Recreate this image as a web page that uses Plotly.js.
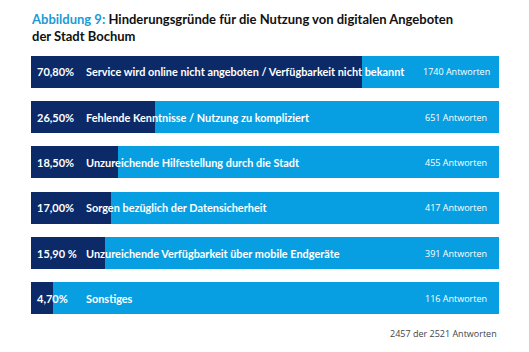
<!DOCTYPE html>
<html>
<head>
<meta charset="utf-8">
<script src="https://cdn.plot.ly/plotly-3.0.1.min.js"></script>
<style>html,body{margin:0;padding:0;background:#fff;}#chart{width:529px;height:352px;}</style>
</head>
<body>
<div id="chart"></div>
<script>
const categories = [
  "Service wird online nicht angeboten / Verfügbarkeit nicht bekannt",
  "Fehlende Kenntnisse / Nutzung zu kompliziert",
  "Unzureichende Hilfestellung durch die Stadt",
  "Sorgen bezüglich der Datensicherheit",
  "Unzureichende Verfügbarkeit über mobile Endgeräte",
  "Sonstiges"
];
const percentValues = [70.8, 26.5, 18.5, 17.0, 15.9, 4.7];
const percentLabels = ["70,80%", "26,50%", "18,50%", "17,00%", "15,90 %", "4,70%"];
const answerCounts = [1740, 651, 455, 417, 391, 116];
const totalNote = "2457 der 2521 Antworten";

const DARK = "#0c2a68";
const LIGHT = "#089fe2";
const FONT = "Lato, sans-serif";
const FONT2 = "Open Sans, sans-serif";

const remainder = percentValues.map(v => 100 - v);

const traces = [
  {type: "bar", orientation: "h", y: categories, x: percentValues,
   marker: {color: DARK}, hoverinfo: "skip", showlegend: false},
  {type: "bar", orientation: "h", y: categories, x: remainder,
   marker: {color: LIGHT}, hoverinfo: "skip", showlegend: false}
];

const annotations = [];
categories.forEach((c, i) => {
  annotations.push({xref: "paper", x: 0, xanchor: "left", xshift: 4, y: c, yref: "y",
    text: "<b>" + percentLabels[i] + "</b>", showarrow: false,
    font: {family: FONT, size: 11, color: "#ffffff"}});
  annotations.push({xref: "paper", x: 0, xanchor: "left", xshift: 53, y: c, yref: "y",
    text: "<b>" + c + "</b>", showarrow: false,
    font: {family: FONT, size: 10.9, color: "#ffffff"}});
  annotations.push({xref: "paper", x: 1, xanchor: "center", xshift: -43, y: c, yref: "y",
    text: answerCounts[i] + " Antworten", showarrow: false,
    font: {family: FONT2, size: 9, color: "#ffffff"}});
});
annotations.push({xref: "paper", x: 1, xanchor: "right", yref: "paper", y: 0, yanchor: "top", yshift: -4,
  text: totalNote, showarrow: false, font: {family: FONT2, size: 9, color: "#444444"}});
annotations.push({xref: "paper", x: 0, xanchor: "left", xshift: -2, yref: "paper", y: 1, yanchor: "bottom", yshift: 3,
  align: "left", showarrow: false,
  text: "<b><span style='color:#1a9bd7'>Abbildung 9:</span> Hinderungsgründe für die Nutzung von digitalen Angeboten<br>der Stadt Bochum</b>",
  font: {family: FONT, size: 13, color: "#111111"}});

const layout = {
  width: 529, height: 352,
  margin: {l: 31, r: 30, t: 49, b: 31},
  paper_bgcolor: "#ffffff", plot_bgcolor: "#ffffff",
  barmode: "stack", bargap: 0.29,
  xaxis: {range: [0, 100], visible: false, fixedrange: true},
  yaxis: {autorange: "reversed", visible: false, fixedrange: true},
  annotations: annotations
};

Plotly.newPlot("chart", traces, layout, {displayModeBar: false, staticPlot: true});
</script>
</body>
</html>
